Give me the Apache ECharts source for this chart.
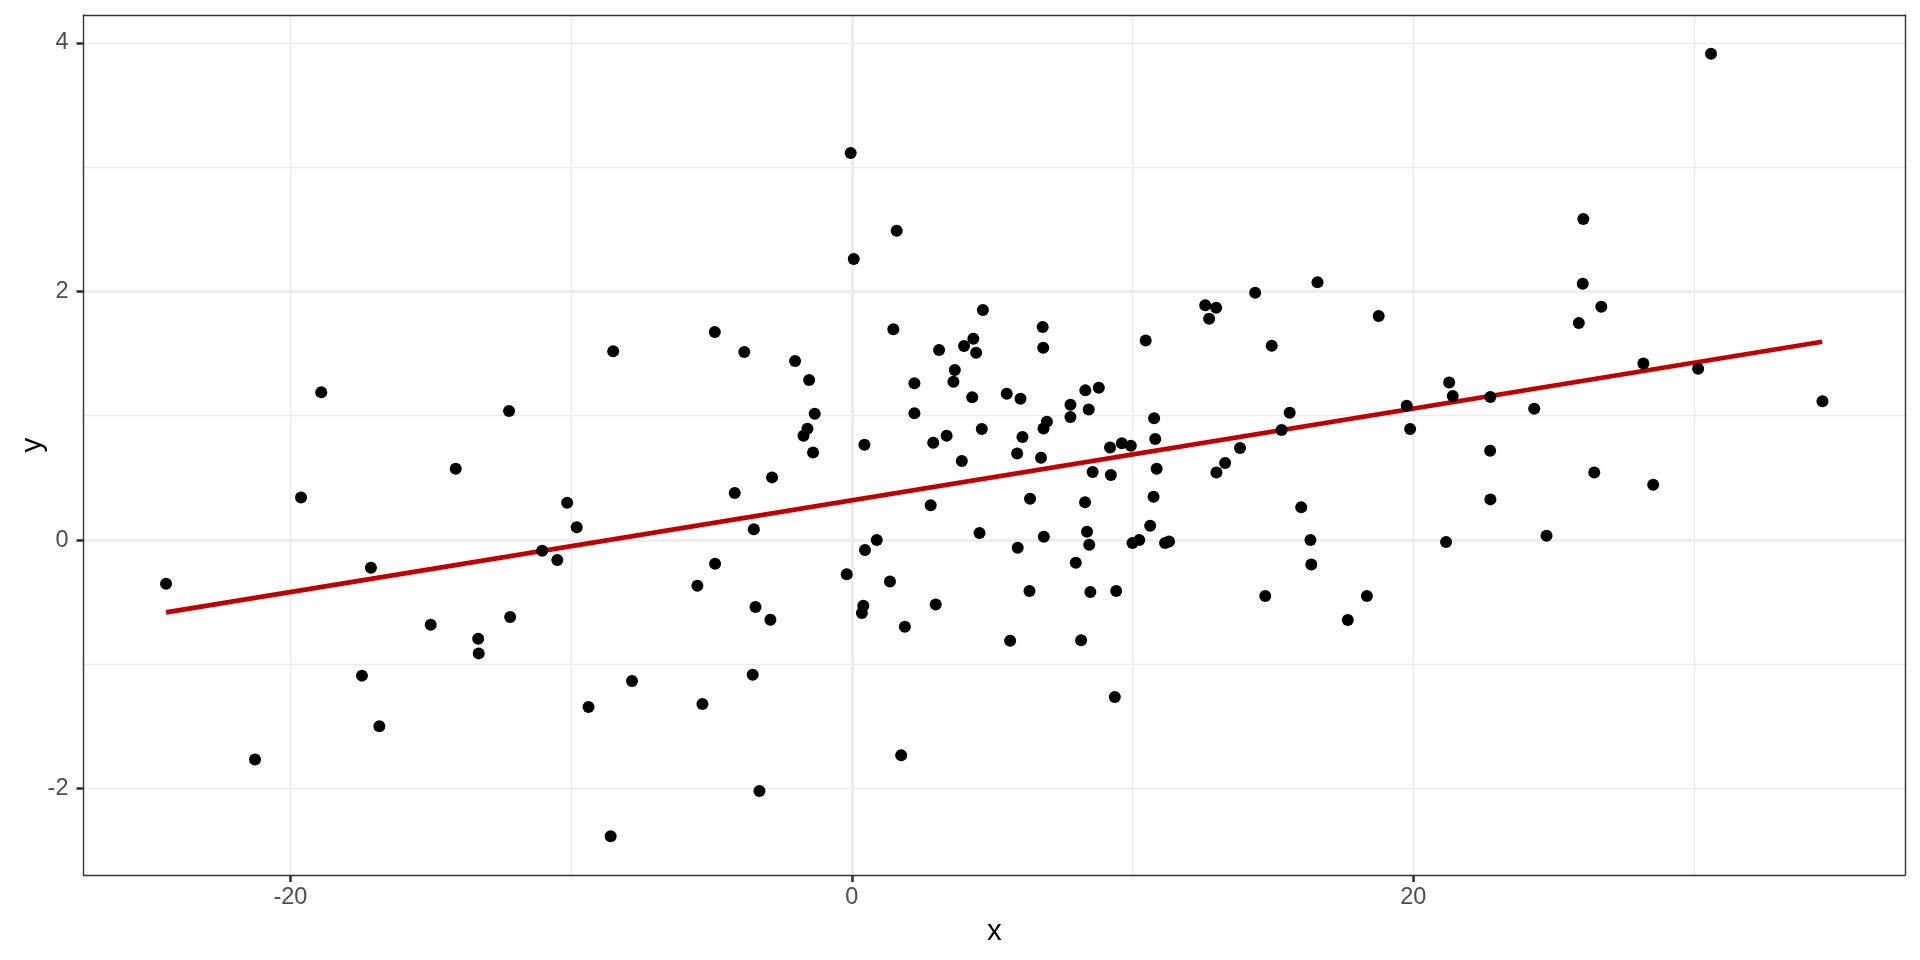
<!DOCTYPE html>
<html>
<head>
<meta charset="utf-8">
<script src="https://cdn.jsdelivr.net/npm/echarts@6.0.0/dist/echarts.min.js"></script>
<style>
  html, body { margin: 0; padding: 0; background: #ffffff; }
  #chart { width: 1920px; height: 960px; }
</style>
</head>
<body>
<div id="chart"></div>
<script>
// ---- Data ----
const POINT_X = [
  -18.90, -12.21,
  -0.04, 1.60, 0.07, 4.67, -4.88, -8.50, -3.83, 1.48, 4.33, 4.00, 4.43, 3.11, -2.02, -1.52,
  3.67, 3.62, 2.23, 4.29, -1.32, 2.23, -1.58, -1.72, 4.63, 3.38, 2.90, 0.45,
  -1.38, 3.92, -2.84, -4.17, -10.14, -9.80, -3.49, 2.81, 4.55, -11.03, -10.49, 0.89, 0.47,
  -0.18, -4.87, -5.50, 1.36, 0.41, 0.36, 2.99, -3.43, -2.90, 1.89, -7.83, -9.38, -5.32,
  -3.53, 1.76, -3.29, -8.59,
  -19.62, -14.11, -24.43, -17.13, -15.00, -13.31, -13.29, -12.17, -17.45, -16.83, -21.26,
  6.80, 6.82, 10.47, 12.59, 12.98, 12.73, 14.37, 16.59, 18.77, 14.96, 5.52, 6.01, 7.79,
  8.32, 8.80, 8.44, 7.79, 6.83, 6.95, 6.08, 10.77, 10.81, 15.60, 15.31, 19.77, 19.89,
  21.28, 21.41,
  5.89, 6.74, 9.20, 9.62, 9.94, 13.83, 13.30, 12.99, 8.58, 9.23, 10.86, 6.35, 8.31, 10.75,
  10.63, 8.38, 6.84, 5.91, 8.46, 10.00, 10.24, 11.16, 11.30, 7.98, 6.33, 8.50, 9.42, 5.64,
  8.17, 9.37, 16.01, 16.34, 16.37, 14.73, 18.35, 17.67, 21.17,
  30.61, 26.06, 26.04, 26.70, 25.90, 28.20, 30.15, 34.58, 22.75, 24.31,
  22.74, 22.75, 26.45, 28.55, 24.75
];
const POINT_Y = [
  1.188, 1.038,
  3.113, 2.488, 2.261, 1.850, 1.673, 1.518, 1.512, 1.695, 1.620, 1.561, 1.507, 1.529, 1.440, 1.287,
  1.368, 1.274, 1.261, 1.148, 1.016, 1.019, 0.896, 0.839, 0.893, 0.839, 0.783, 0.767,
  0.705, 0.636, 0.504, 0.378, 0.300, 0.102, 0.086, 0.279, 0.056, -0.087, -0.161, 0.000, -0.080,
  -0.276, -0.191, -0.367, -0.333, -0.528, -0.587, -0.518, -0.539, -0.641, -0.697, -1.134, -1.343, -1.319,
  -1.083, -1.732, -2.019, -2.384,
  0.343, 0.574, -0.351, -0.223, -0.681, -0.794, -0.912, -0.619, -1.091, -1.499, -1.765,
  1.714, 1.547, 1.606, 1.888, 1.869, 1.781, 1.990, 2.073, 1.802, 1.563, 1.177, 1.137, 1.089,
  1.204, 1.225, 1.051, 0.990, 0.898, 0.952, 0.829, 0.979, 0.813, 1.024, 0.885, 1.081, 0.893,
  1.268, 1.158,
  0.697, 0.662, 0.745, 0.778, 0.759, 0.740, 0.619, 0.544, 0.547, 0.523, 0.574, 0.332, 0.303, 0.349,
  0.115, 0.067, 0.027, -0.062, -0.038, -0.024, 0.000, -0.024, -0.011, -0.182, -0.410, -0.418, -0.410, -0.810,
  -0.807, -1.263, 0.263, 0.000, -0.196, -0.451, -0.451, -0.644, -0.016,
  3.913, 2.582, 2.062, 1.877, 1.746, 1.421, 1.378, 1.116, 1.150, 1.057,
  0.719, 0.327, 0.544, 0.445, 0.035
];
// fitted (lm) line end points
const FIT_X = [-24.43, 34.57];
const FIT_Y = [-0.582, 1.595];
// axis ticks / limits
const X_TICKS = [-20, 0, 20];
const Y_TICKS = [-2, 0, 2, 4];
const X_MIN = -27.37, X_MAX = 37.52;
const Y_MIN = -2.695, Y_MAX = 4.224;

// ---- Build chart ----
const FONT = "'Liberation Sans', Arial, sans-serif";
const pts = POINT_X.map((x, i) => [x, POINT_Y[i]]);
const fit = FIT_X.map((x, i) => [x, FIT_Y[i]]);
const BORDER = { color: '#333333', width: 1.4 };

const chart = echarts.init(document.getElementById('chart'), null, { renderer: 'canvas' });
chart.setOption({
  animation: false,
  backgroundColor: '#ffffff',
  grid: { left: 83.5, right: 15, top: 15, bottom: 85, containLabel: false, show: false },
  xAxis: [
    {
      type: 'value', position: 'bottom', min: X_MIN, max: X_MAX, splitNumber: 3,
      name: 'x', nameLocation: 'middle', nameGap: 42, nameMoveOverlap: false,
      nameTextStyle: { color: '#000000', fontSize: 29.5, fontFamily: FONT },
      axisLine: { show: true, onZero: false, lineStyle: BORDER },
      axisTick: { show: true, length: 7, customValues: X_TICKS, lineStyle: { color: '#333333', width: 2.6 } },
      axisLabel: { customValues: X_TICKS, margin: 11, color: '#4D4D4D', fontSize: 23.5, fontFamily: FONT },
      splitLine: { show: true, showMinLine: false, showMaxLine: false, lineStyle: { color: '#EBEBEB', width: 2.7 } }
    },
    {
      type: 'value', position: 'top', min: X_MIN, max: X_MAX, splitNumber: 5,
      axisLine: { show: true, onZero: false, lineStyle: BORDER },
      axisTick: { show: false }, axisLabel: { show: false },
      splitLine: { show: true, showMinLine: false, showMaxLine: false, lineStyle: { color: '#EBEBEB', width: 1.35 } }
    }
  ],
  yAxis: [
    {
      type: 'value', position: 'left', min: Y_MIN, max: Y_MAX, splitNumber: 3,
      name: 'y', nameLocation: 'middle', nameGap: 36, nameRotate: 90, nameMoveOverlap: false,
      nameTextStyle: { color: '#000000', fontSize: 29.5, fontFamily: FONT },
      axisLine: { show: true, onZero: false, lineStyle: BORDER },
      axisTick: { show: true, length: 7, customValues: Y_TICKS, lineStyle: { color: '#333333', width: 2.6 } },
      axisLabel: { customValues: Y_TICKS, margin: 15, color: '#4D4D4D', fontSize: 23.5, fontFamily: FONT },
      splitLine: { show: true, showMinLine: false, showMaxLine: false, lineStyle: { color: '#EBEBEB', width: 2.7 } }
    },
    {
      type: 'value', position: 'right', min: Y_MIN, max: Y_MAX, splitNumber: 5,
      axisLine: { show: true, onZero: false, lineStyle: BORDER },
      axisTick: { show: false }, axisLabel: { show: false },
      splitLine: { show: true, showMinLine: false, showMaxLine: false, lineStyle: { color: '#EBEBEB', width: 1.35 } }
    }
  ],
  series: [
    {
      type: 'line', data: fit, xAxisIndex: 0, yAxisIndex: 0, showSymbol: false, symbol: 'none',
      lineStyle: { color: '#C00000', width: 4.6, opacity: 1 }, z: 2, silent: true
    },
    {
      type: 'scatter', data: pts, xAxisIndex: 0, yAxisIndex: 0, symbol: 'circle', symbolSize: 12,
      itemStyle: { color: '#000000', opacity: 1 }, z: 3, silent: true
    }
  ]
});
</script>
</body>
</html>
